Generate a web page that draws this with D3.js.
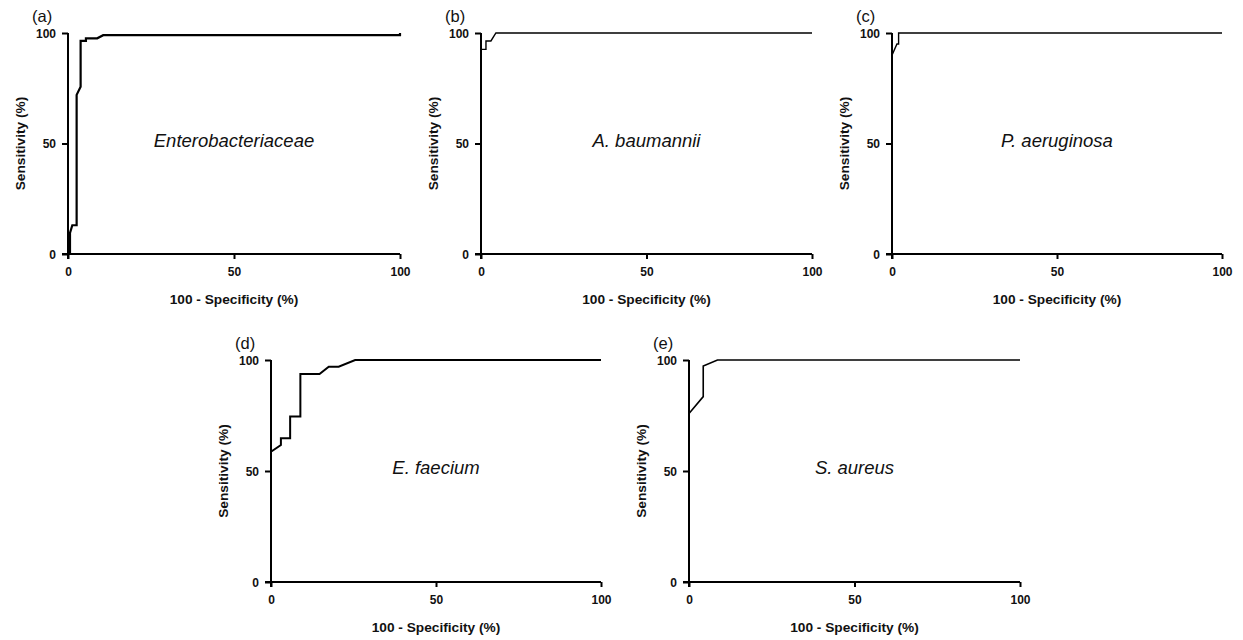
<!DOCTYPE html>
<html>
<head>
<meta charset="utf-8">
<script src="https://cdn.jsdelivr.net/npm/d3@7"></script>
<style>
  body { margin: 0; background: #fff; }
  svg { font-family: "Liberation Sans", Arial, sans-serif; }
  .axis path, .axis line { stroke: #000; stroke-width: 2; }
  .axis text { font-size: 12px; font-weight: bold; fill: #111; }
  .title { font-size: 13.7px; font-weight: bold; fill: #111; }
</style>
</head>
<body>
<svg id="chart" width="1243" height="640"></svg>
<script>
// panel ids and organism names
const panelIds = ['a', 'b', 'c', 'd', 'e']
const organisms = ['Enterobacteriaceae', 'A. baumannii', 'P. aeruginosa', 'E. faecium', 'S. aureus']

// ROC points: 100 - specificity (%) vs sensitivity (%)
const fprA = [0.6, 0.6, 1.3, 2.6, 2.6, 3.8, 3.8, 5.4, 5.4, 8.8, 10.6, 100, 100]
const tprA = [0, 9.5, 13, 13, 72, 75.7, 96.4, 96.4, 97.6, 97.6, 99, 99, 100]
const fprB = [0, 0, 1.5, 1.5, 3, 4.5, 100]
const tprB = [0, 92.6, 92.6, 96.4, 96.4, 100, 100]
const fprC = [0, 0, 1.5, 2, 2, 100]
const tprC = [0, 90, 95, 95, 100, 100]
const fprD = [0, 0, 3, 3, 5.8, 5.8, 8.9, 8.9, 14.7, 17.5, 20.5, 25.5, 100]
const tprD = [0, 58.7, 61.7, 64.7, 64.7, 74.5, 74.5, 93.7, 93.7, 97, 97, 100, 100]
const fprE = [0, 0, 4.3, 4.3, 8.6, 100]
const tprE = [0, 75.9, 83.5, 97.3, 100, 100]

const tickValues = [0, 50, 100]

// layout (pixels) for each panel
const layout = [
  { x0: 68, x1: 400, top: 33, bottom: 254, lw: 2.2 },
  { x0: 481, x1: 812, top: 33, bottom: 254, lw: 1.4 },
  { x0: 892, x1: 1222, top: 33, bottom: 254, lw: 1.4 },
  { x0: 271, x1: 601, top: 360, bottom: 582, lw: 2 },
  { x0: 689, x1: 1020, top: 360, bottom: 582, lw: 1.6 }
]
const series = [[fprA, tprA], [fprB, tprB], [fprC, tprC], [fprD, tprD], [fprE, tprE]]

const svg = d3.select('#chart')

panelIds.forEach((id, i) => {
  const L = layout[i]
  const x = d3.scaleLinear().domain([0, 100]).range([L.x0, L.x1])
  const y = d3.scaleLinear().domain([0, 100]).range([L.bottom, L.top])
  const g = svg.append('g')

  g.append('g')
    .attr('class', 'axis')
    .attr('transform', `translate(0,${L.bottom})`)
    .call(d3.axisBottom(x).tickValues(tickValues).tickSize(5).tickSizeOuter(0).tickPadding(8))
    .call(s => s.select('.domain').attr('d', `M${L.x0 - 6},0H${L.x1}`))

  g.append('g')
    .attr('class', 'axis')
    .attr('transform', `translate(${L.x0},0)`)
    .call(d3.axisLeft(y).tickValues(tickValues).tickSize(6).tickSizeOuter(0).tickPadding(6))
    .call(s => s.select('.domain').attr('d', `M0,${L.top}V${L.bottom + 5}`))
    .call(s => s.selectAll('.tick text').attr('dy', '0.35em'))

  const [fx, ty] = series[i]
  const line = d3.line().x(d => x(d[0])).y(d => y(d[1]))
  g.append('path')
    .datum(fx.map((v, k) => [v, ty[k]]))
    .attr('d', line)
    .attr('fill', 'none')
    .attr('stroke', '#000')
    .attr('stroke-width', L.lw)
    .attr('stroke-linejoin', 'miter')

  // axis titles
  g.append('text')
    .attr('class', 'title')
    .attr('x', (L.x0 + L.x1) / 2)
    .attr('y', L.bottom + 50)
    .attr('text-anchor', 'middle')
    .text('100 - Specificity (%)')

  g.append('text')
    .attr('class', 'title')
    .attr('transform', `translate(${L.x0 - 48},${(L.top + L.bottom) / 2}) rotate(-90)`)
    .attr('dy', '0.35em')
    .attr('text-anchor', 'middle')
    .text('Sensitivity (%)')

  // organism label
  g.append('text')
    .attr('x', (L.x0 + L.x1) / 2)
    .attr('y', (L.top + L.bottom) / 2 - 3)
    .attr('dy', '0.35em')
    .attr('text-anchor', 'middle')
    .style('font-size', '18.5px')
    .style('font-style', 'italic')
    .style('fill', '#111')
    .text(organisms[i])

  // panel letter
  g.append('text')
    .attr('x', L.x0 - 36)
    .attr('y', L.top - 11)
    .style('font-size', '16.5px')
    .style('fill', '#111')
    .text(`(${id})`)
})
</script>
</body>
</html>
